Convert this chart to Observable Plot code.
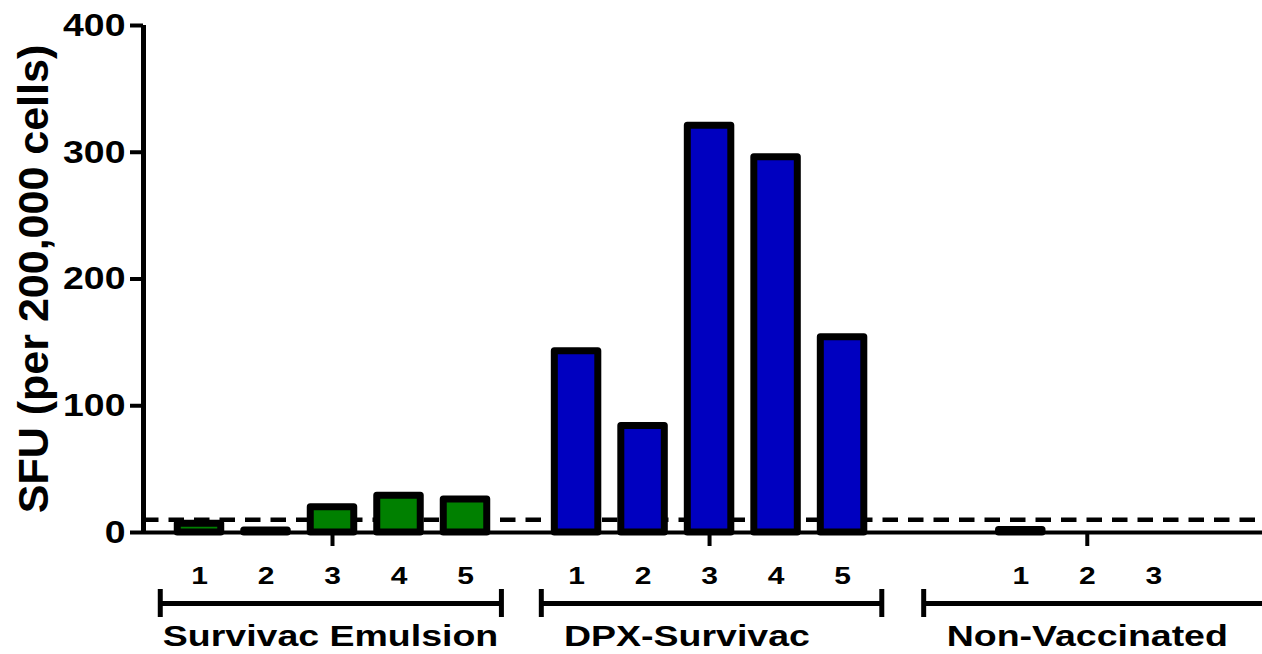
<!DOCTYPE html>
<html>
<head>
<meta charset="utf-8">
<script src="https://cdn.jsdelivr.net/npm/d3@7"></script>
<script src="https://cdn.jsdelivr.net/npm/@observablehq/plot@0.6"></script>
<style>
  html, body { margin: 0; padding: 0; background: #fff; overflow: hidden; }
</style>
</head>
<body>
<div id="chart"></div>
<script>
// ---- data ----
const groupNames = ["Survivac Emulsion", "DPX-Survivac", "Non-Vaccinated"];
const subjectLabels = [["1", "2", "3", "4", "5"], ["1", "2", "3", "4", "5"], ["1", "2", "3"]];
const survivacValues = [7, 1.5, 20, 29, 26];
const dpxValues = [143, 84, 321, 296, 154];
const nonVaccValues = [2, 0, 0];
const seriesValues = [survivacValues, dpxValues, nonVaccValues];
const groupColors = ["#008000", "#0000C0", "#808080"];
const yTicks = [0, 100, 200, 300, 400];
const yLabel = "SFU (per 200,000 cells)";
const threshold = 10;

// ---- layout (slot units along x) ----
const W = 1262, H = 654;
const groupStart = [0, 5.67, 12.35];
const barHalf = 0.327;
const bracketSpans = [[-0.59, 4.54], [5.14, 10.26], [10.89, 16.6]];
const labelCenters = [1.97, 7.33, 13.35];
const xDomain = [(143 - 199) / 66.5, (1262 - 199) / 66.5];

const bars = [];
groupNames.forEach((g, gi) => {
  seriesValues[gi].forEach((v, i) => {
    bars.push({group: g, gi, label: subjectLabels[gi][i], value: v, u: groupStart[gi] + i});
  });
});
const groupCenters = groupNames.map((g, gi) => groupStart[gi] + (seriesValues[gi].length - 1) / 2);
const groupLabels = groupNames.map((g, gi) => ({name: g, u: labelCenters[gi]}));

const chart = Plot.plot({
  width: W,
  height: H,
  marginLeft: 143,
  marginRight: 0,
  marginTop: 25,
  marginBottom: 122,
  x: {domain: xDomain, axis: null},
  y: {domain: [0, 400], axis: null},
  style: {fontFamily: "'Liberation Sans', Arial, sans-serif", background: "#fff", color: "#000"},
  marks: [
    Plot.ruleY([threshold], {stroke: "#000", strokeWidth: 4.5, strokeDasharray: "15.5,10"}),
    Plot.rect(bars.filter(d => d.value > 0), {
      x1: d => d.u - barHalf,
      x2: d => d.u + barHalf,
      y1: 0,
      y2: "value",
      fill: d => groupColors[d.gi],
      stroke: "#000",
      strokeWidth: 7,
      strokeLinejoin: "round"
    }),
    Plot.ruleY([0], {stroke: "#000", strokeWidth: 4}),
    Plot.ruleX([xDomain[0]], {y1: 0, y2: 400, stroke: "#000", strokeWidth: 5}),
    Plot.axisY({
      ticks: yTicks,
      tickSize: 13,
      tickPadding: 5,
      strokeWidth: 4,
      fontSize: 32,
      fontWeight: "bold",
      tickFormat: d => String(d),
      label: null
    }),
    Plot.text([yLabel], {
      frameAnchor: "left",
      textAnchor: "middle",
      text: d => d,
      rotate: -90,
      dx: -96,
      lineAnchor: "bottom",
      fontSize: 43,
      fontWeight: "bold"
    }),
    Plot.text(bars, {x: "u", y: 0, text: "label", dy: 51, lineAnchor: "bottom", fontSize: 24, fontWeight: "bold"}),
    Plot.ruleX(groupCenters, {y1: 0, y2: 0, insetBottom: -14, stroke: "#000", strokeWidth: 4}),
    Plot.ruleY(bracketSpans, {y: 0, x1: d => d[0], x2: d => d[1], dy: 71, stroke: "#000", strokeWidth: 5}),
    Plot.ruleX(bracketSpans.flat(), {y1: 0, y2: 0, dy: 71, insetTop: -14, insetBottom: -14, stroke: "#000", strokeWidth: 5}),
    Plot.text(groupLabels, {x: "u", y: 0, text: "name", dy: 113, lineAnchor: "bottom", fontSize: 30, fontWeight: "bold"})
  ]
});

// widen horizontal labels to match the reference's wide letterforms (not the rotated y label)
d3.select(chart).selectAll("text").each(function () {
  if (this.textContent === yLabel) return;
  const t = this.getAttribute("transform");
  if (t && t.includes("rotate")) return;
  const parentLabel = (this.parentNode && this.parentNode.getAttribute("aria-label")) || "";
  const k = parentLabel.includes("tick label") ? 1.17 : 1.25;
  this.setAttribute("transform", (t || "") + ` scale(${k},1)`);
});

document.getElementById("chart").appendChild(chart);
</script>
</body>
</html>
